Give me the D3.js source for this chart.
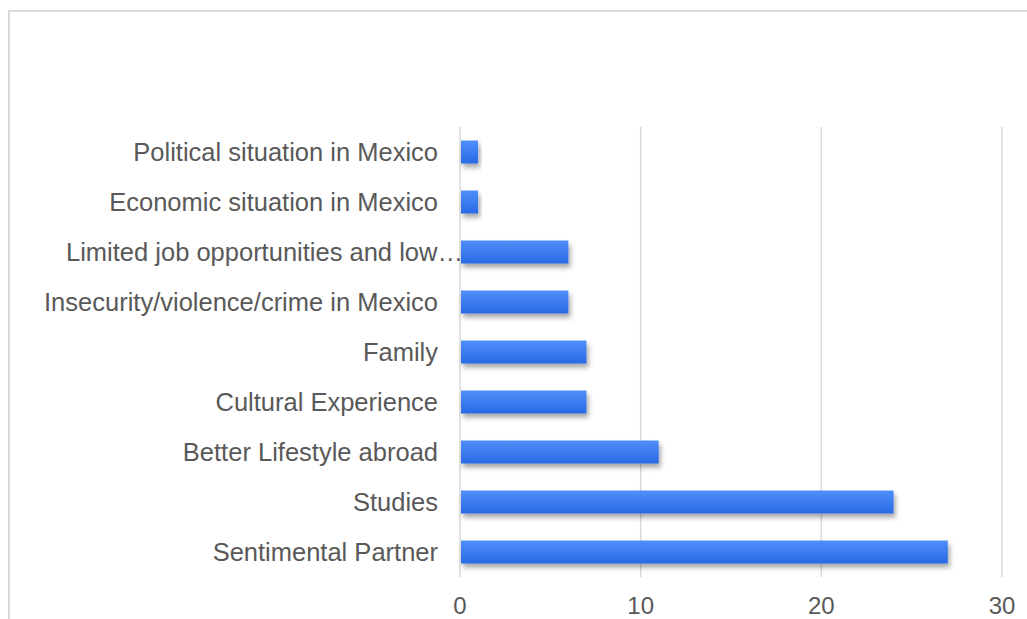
<!DOCTYPE html>
<html>
<head>
<meta charset="utf-8">
<script src="https://cdn.jsdelivr.net/npm/d3@7"></script>
<style>
  html, body { margin: 0; padding: 0; background: #fff; }
  svg { display: block; }
</style>
</head>
<body>
<svg id="chart" width="1027" height="619"></svg>
<script>
// Reasons for leaving, top to bottom
const categories = [
  "Political situation in Mexico",
  "Economic situation in Mexico",
  "Limited job opportunities and low salaries",
  "Insecurity/violence/crime in Mexico",
  "Family",
  "Cultural Experience",
  "Better Lifestyle abroad",
  "Studies",
  "Sentimental Partner"
];
const counts = [1, 1, 6, 6, 7, 7, 11, 24, 27];
const xTicks = [0, 10, 20, 30];

const svg = d3.select("#chart");
const W = 1027, H = 619;
const plot = { left: 460, right: 1002, top: 127, bottom: 577 };
const fontFamily = "'Liberation Sans', Arial, sans-serif";
const textColor = "#595959";
const gridColor = "#d9d9d9";

// Outer frame
svg.append("rect")
  .attr("x", 9).attr("y", 11)
  .attr("width", W + 20).attr("height", H + 20)
  .attr("fill", "none")
  .attr("stroke", gridColor)
  .attr("stroke-width", 2);

const defs = svg.append("defs");
const grad = defs.append("linearGradient")
  .attr("id", "barFill").attr("x1", 0).attr("y1", 0).attr("x2", 0).attr("y2", 1);
grad.append("stop").attr("offset", "0%").attr("stop-color", "#4f8ff9");
grad.append("stop").attr("offset", "100%").attr("stop-color", "#2a69e6");

const shadow = defs.append("filter").attr("id", "barShadow")
  .attr("x", "-10%").attr("y", "-30%").attr("width", "130%").attr("height", "190%");
shadow.append("feDropShadow")
  .attr("dx", 2).attr("dy", 4).attr("stdDeviation", 2.5)
  .attr("flood-color", "#000").attr("flood-opacity", 0.35);

const x = d3.scaleLinear().domain([0, 30]).range([plot.left, plot.right]);
const y = d3.scaleBand().domain(categories).range([plot.top, plot.bottom]).paddingInner(0.54).paddingOuter(0.27);

// Vertical gridlines
svg.append("g").selectAll("line")
  .data(xTicks)
  .join("line")
  .attr("x1", d => x(d)).attr("x2", d => x(d))
  .attr("y1", plot.top).attr("y2", plot.bottom)
  .attr("stroke", gridColor).attr("stroke-width", 1.5);

// Bars
svg.append("g").selectAll("rect")
  .data(categories)
  .join("rect")
  .attr("x", x(0) + 1)
  .attr("y", d => y(d))
  .attr("width", (d, i) => x(counts[i]) - x(0) - 1)
  .attr("height", y.bandwidth())
  .attr("fill", "url(#barFill)")
  .attr("filter", "url(#barShadow)");

// Category labels, truncated with an ellipsis when too wide
const maxLabelWidth = 402;
const labels = svg.append("g").selectAll("text")
  .data(categories)
  .join("text")
  .attr("x", plot.left - 22)
  .attr("y", d => y(d) + y.bandwidth() / 2)
  .attr("dy", "0.35em")
  .attr("text-anchor", "end")
  .attr("font-family", fontFamily)
  .attr("font-size", 25.5)
  .attr("fill", textColor)
  .text(d => d);

labels.each(function(d) {
  const t = d3.select(this);
  if (this.getComputedTextLength() > maxLabelWidth) {
    let s = d;
    while (s.length > 0) {
      s = s.slice(0, -1);
      t.text(s.trimEnd() + "…");
      if (this.getComputedTextLength() <= maxLabelWidth) break;
    }
    t.attr("text-anchor", "start").attr("x", plot.left - 394);
  }
});

// X tick labels
svg.append("g").selectAll("text")
  .data(xTicks)
  .join("text")
  .attr("x", d => x(d))
  .attr("y", 606)
  .attr("dy", "0.35em")
  .attr("text-anchor", "middle")
  .attr("font-family", fontFamily)
  .attr("font-size", 24)
  .attr("fill", textColor)
  .text(d => d);
</script>
</body>
</html>
